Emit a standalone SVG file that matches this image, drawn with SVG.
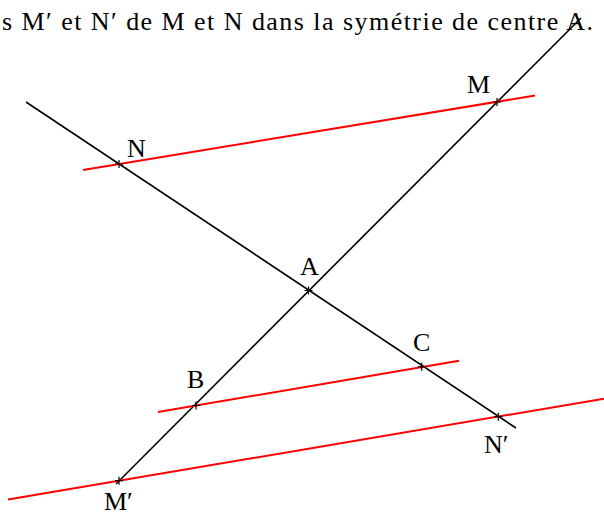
<svg xmlns="http://www.w3.org/2000/svg" width="604" height="517" viewBox="0 0 604 517">
<style>
.blk{stroke:#000;stroke-width:1.6;fill:none}
.red{stroke:#ff0000;stroke-width:2;fill:none}
.pt{stroke:#000;stroke-width:1.2;fill:none}
.lbl{font-family:"Liberation Serif","DejaVu Serif",serif;font-size:26px;fill:#000}
.title{font-family:"Liberation Serif","DejaVu Serif",serif;font-size:26px;fill:#000}
</style>
<defs>
<path id="cross" d="M-4,0H4M0,-4V4"/>
</defs>
<rect width="604" height="517" fill="#fff"/>
<text class="title" x="2" y="30" textLength="591" lengthAdjust="spacing">s M′ et N′ de M et N dans la symétrie de centre A.</text>
<g id="connectors">
<line class="blk" x1="26" y1="102" x2="516" y2="428"/>
<line class="blk" x1="581" y1="18" x2="116" y2="484"/>
<line class="red" x1="83" y1="170" x2="535" y2="95.5"/>
<line class="red" x1="158" y1="412" x2="459" y2="360.8"/>
<line class="red" x1="8" y1="499.5" x2="604" y2="398.7"/>
</g>
<g id="N"><use href="#cross" class="pt" x="119" y="164"/><text class="lbl" x="127" y="157">N</text></g>
<g id="M"><use href="#cross" class="pt" x="497" y="102"/><text class="lbl" x="467" y="93">M</text></g>
<g id="A"><use href="#cross" class="pt" x="308.5" y="290.5"/><text class="lbl" x="300" y="275">A</text></g>
<g id="B"><use href="#cross" class="pt" x="196" y="405.5"/><text class="lbl" x="187" y="388">B</text></g>
<g id="C"><use href="#cross" class="pt" x="421.7" y="366.8"/><text class="lbl" x="413" y="351">C</text></g>
<g id="Nprime"><use href="#cross" class="pt" x="498.3" y="416.7"/><text class="lbl" x="484" y="453">N′</text></g>
<g id="Mprime"><use href="#cross" class="pt" x="119" y="480.7"/><text class="lbl" x="104" y="510">M′</text></g>
</svg>
